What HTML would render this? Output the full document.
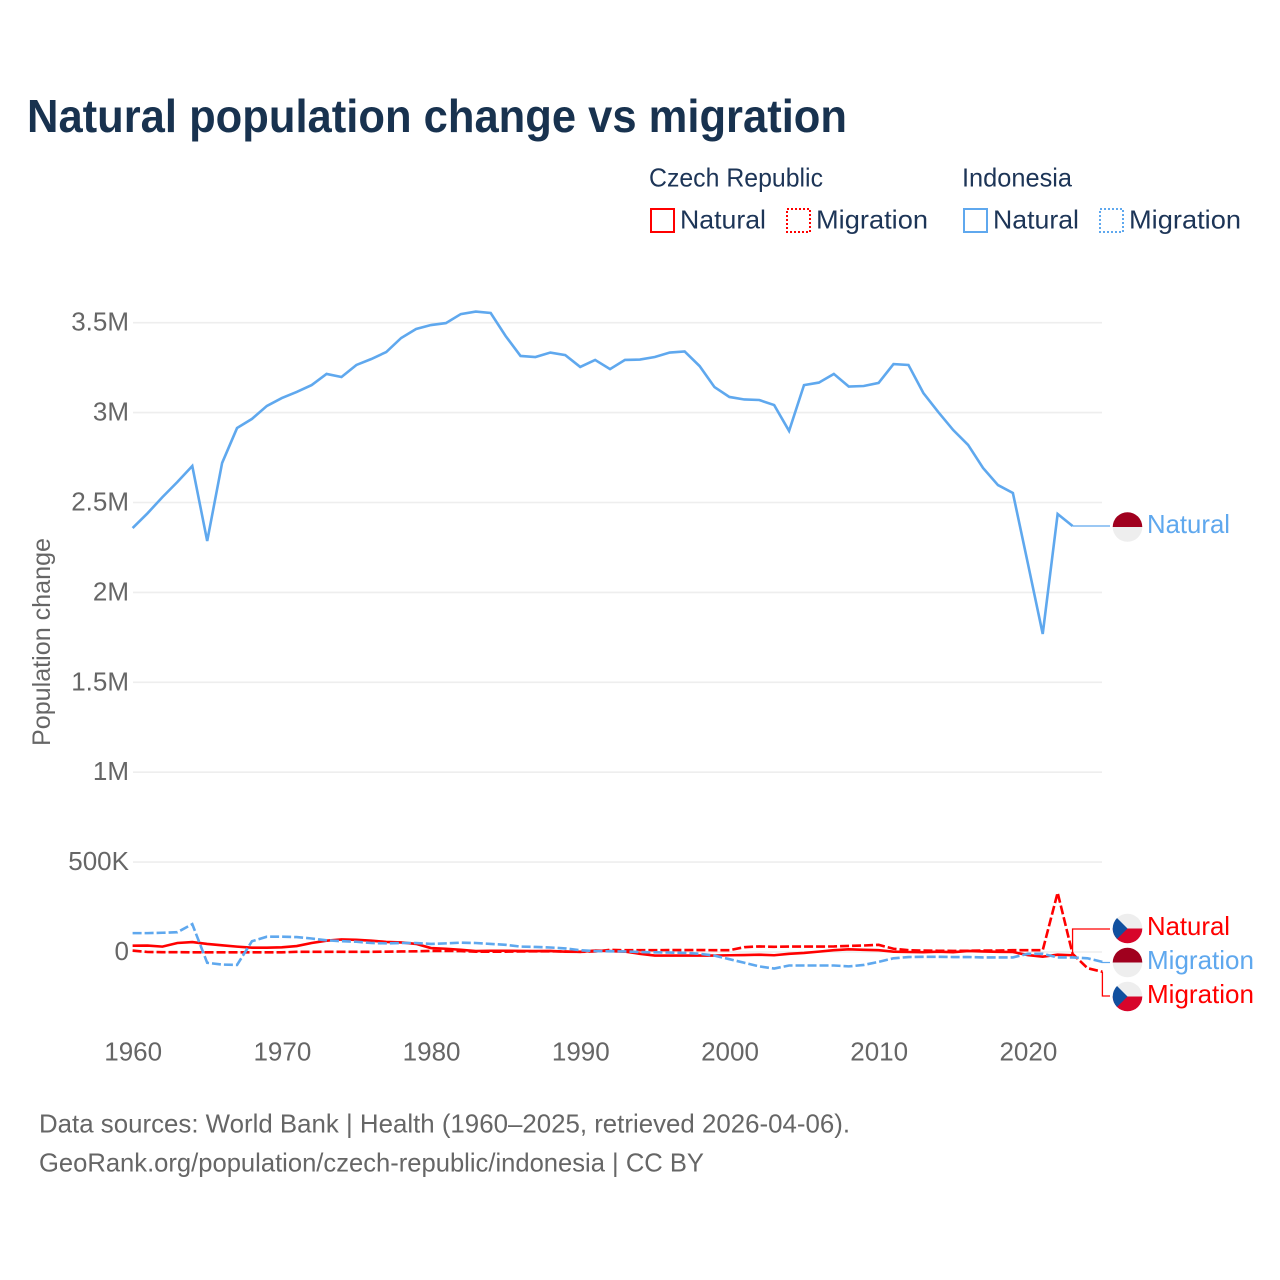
<!DOCTYPE html>
<html lang="en">
<head>
<meta charset="utf-8">
<title>Natural population change vs migration</title>
<style>
html,body{margin:0;padding:0;background:#fff;width:1280px;height:1280px;overflow:hidden}
svg{display:block;font-family:"Liberation Sans",sans-serif}
text{font-family:"Liberation Sans",sans-serif}
</style>
</head>
<body>
<svg id="chart" xmlns="http://www.w3.org/2000/svg" width="1280" height="1280" viewBox="0 0 1280 1280">
<defs>
<clipPath id="flag-clip"><circle cx="0" cy="0" r="14.8"/></clipPath>
<g id="flag-cz" clip-path="url(#flag-clip)">
<rect x="-15" y="-15" width="30" height="15" fill="#eeeeee"/>
<rect x="-15" y="0" width="30" height="15" fill="#d7052a"/>
<path d="M-15,-15 L0,0 L-15,15 Z" fill="#11509f"/>
</g>
<g id="flag-id" clip-path="url(#flag-clip)">
<rect x="-15" y="-15" width="30" height="15" fill="#a0001e"/>
<rect x="-15" y="0" width="30" height="15" fill="#eeeeee"/>
</g>
</defs>

<text x="27" y="132" font-size="46" font-weight="700" fill="#18324f" textLength="820" lengthAdjust="spacingAndGlyphs">Natural population change vs migration</text>

<g font-size="26" fill="#1d3557">
<text x="649" y="186.5" textLength="174" lengthAdjust="spacingAndGlyphs">Czech Republic</text>
<text x="962" y="186.5" textLength="110" lengthAdjust="spacingAndGlyphs">Indonesia</text>
<rect x="651" y="209" width="23" height="23" fill="none" stroke="#ff0000" stroke-width="2"/>
<text x="680" y="228.5" textLength="86" lengthAdjust="spacingAndGlyphs">Natural</text>
<rect x="787" y="209" width="23" height="23" fill="none" stroke="#ff0000" stroke-width="2" stroke-dasharray="2 2"/>
<text x="816" y="228.5" textLength="112" lengthAdjust="spacingAndGlyphs">Migration</text>
<rect x="964" y="209" width="23" height="23" fill="none" stroke="#5fa8ee" stroke-width="2"/>
<text x="993" y="228.5" textLength="86" lengthAdjust="spacingAndGlyphs">Natural</text>
<rect x="1100" y="209" width="23" height="23" fill="none" stroke="#5fa8ee" stroke-width="2" stroke-dasharray="2 2"/>
<text x="1129" y="228.5" textLength="112" lengthAdjust="spacingAndGlyphs">Migration</text>
</g>

<text transform="translate(50,746) rotate(-90)" font-size="25" fill="#666666" textLength="208" lengthAdjust="spacingAndGlyphs">Population change</text>

<g id="grid"></g>
<g id="y-ticks"></g>
<g id="x-ticks"></g>
<g id="connectors"></g>
<g id="series"></g>

<g>
<use href="#flag-id" transform="translate(1127.5,527)"/>
<text x="1147" y="533" font-size="26" fill="#5fa8ee" textLength="83" lengthAdjust="spacingAndGlyphs">Natural</text>
</g>
<g>
<use href="#flag-cz" transform="translate(1127.5,928.5)"/>
<text x="1147" y="935" font-size="26" fill="#ff0000" textLength="83" lengthAdjust="spacingAndGlyphs">Natural</text>
</g>
<g>
<use href="#flag-id" transform="translate(1127.5,962.5)"/>
<text x="1147" y="969" font-size="26" fill="#5fa8ee" textLength="107" lengthAdjust="spacingAndGlyphs">Migration</text>
</g>
<g>
<use href="#flag-cz" transform="translate(1127.5,996.5)"/>
<text x="1147" y="1003" font-size="26" fill="#ff0000" textLength="107" lengthAdjust="spacingAndGlyphs">Migration</text>
</g>

<g font-size="26" fill="#666666">
<text x="39" y="1132.5" textLength="811" lengthAdjust="spacingAndGlyphs">Data sources: World Bank | Health (1960–2025, retrieved 2026-04-06).</text>
<text x="39" y="1171.5" textLength="665" lengthAdjust="spacingAndGlyphs">GeoRank.org/population/czech-republic/indonesia | CC BY</text>
</g>
</svg>
<script>
const startYear = 1960;
const xTickYears = [1960, 1970, 1980, 1990, 2000, 2010, 2020];
const yTickValues = [0, 0.5, 1, 1.5, 2, 2.5, 3, 3.5];
const yTickLabels = ["0", "500K", "1M", "1.5M", "2M", "2.5M", "3M", "3.5M"];

/* values in millions, one per year from 1960 */
const czechNatural = [0.035,0.036,0.030,0.050,0.055,0.045,0.037,0.030,0.024,0.024,0.026,0.033,0.050,0.063,0.070,0.068,0.063,0.056,0.053,0.045,0.022,0.018,0.012,0.005,0.007,0.007,0.006,0.005,0.006,0.002,0.001,0.008,0.005,0.002,-0.010,-0.020,-0.020,-0.020,-0.020,-0.020,-0.018,-0.017,-0.015,-0.018,-0.010,-0.005,0.002,0.010,0.015,0.012,0.010,0.002,0.000,-0.001,0.002,-0.001,0.006,0.003,0.001,0.000,-0.017,-0.026,-0.015,-0.018];
const czechMigration = [0.008,0.000,-0.001,-0.001,-0.002,-0.002,-0.002,-0.002,-0.002,-0.002,-0.002,0.001,0.001,0.001,0.001,0.001,0.001,0.002,0.003,0.004,0.006,0.006,0.005,0.002,0.002,0.002,0.003,0.004,0.004,0.003,0.001,0.003,0.012,0.010,0.010,0.010,0.011,0.011,0.011,0.010,0.010,0.027,0.031,0.029,0.030,0.030,0.030,0.031,0.034,0.036,0.040,0.018,0.010,0.008,0.007,0.006,0.007,0.008,0.008,0.010,0.010,0.010,0.330,-0.010,-0.090,-0.110];
const indonesiaNatural = [2.358,2.440,2.530,2.614,2.703,2.286,2.720,2.914,2.965,3.037,3.081,3.115,3.153,3.215,3.198,3.265,3.298,3.337,3.415,3.465,3.487,3.498,3.548,3.562,3.554,3.426,3.315,3.309,3.334,3.320,3.254,3.293,3.242,3.293,3.295,3.309,3.334,3.340,3.259,3.142,3.087,3.073,3.070,3.042,2.898,3.153,3.167,3.215,3.145,3.148,3.165,3.270,3.265,3.109,3.003,2.903,2.820,2.692,2.597,2.553,2.163,1.769,2.436,2.369];
const indonesiaMigration = [0.105,0.105,0.107,0.110,0.155,-0.060,-0.070,-0.072,0.060,0.085,0.085,0.083,0.075,0.065,0.060,0.057,0.050,0.048,0.050,0.050,0.045,0.048,0.052,0.050,0.045,0.040,0.030,0.028,0.025,0.020,0.010,0.005,0.004,0.003,0.000,-0.002,-0.003,-0.005,-0.010,-0.020,-0.040,-0.060,-0.080,-0.092,-0.075,-0.075,-0.075,-0.075,-0.080,-0.072,-0.055,-0.035,-0.028,-0.027,-0.027,-0.028,-0.028,-0.030,-0.030,-0.030,-0.010,-0.010,-0.030,-0.030,-0.035,-0.055];

const NS = "http://www.w3.org/2000/svg";
function xScale(year) { return 132.6 + (year - startYear) * 14.92; }
function yScale(value) { return 952 - value * 179.8; }

const gridGroup = document.getElementById("grid");
const yTickGroup = document.getElementById("y-ticks");
yTickValues.forEach(function (v, i) {
  const line = document.createElementNS(NS, "line");
  
  
  line.setAttribute("x1", 133);
  line.setAttribute("x2", 1102);
  line.setAttribute("y1", yScale(v));
  line.setAttribute("y2", yScale(v));
  line.setAttribute("stroke", "#eeeeee");
  line.setAttribute("stroke-width", "1.6");
  gridGroup.appendChild(line);
  const label = document.createElementNS(NS, "text");
  
  
  label.setAttribute("x", 129);
  label.setAttribute("y", yScale(v) + 8);
  label.setAttribute("text-anchor", "end");
  label.setAttribute("font-size", "26");
  label.setAttribute("fill", "#666666");
  label.textContent = yTickLabels[i];
  yTickGroup.appendChild(label);
});

const xTickGroup = document.getElementById("x-ticks");
xTickYears.forEach(function (year) {
  const label = document.createElementNS(NS, "text");
  
  
  label.setAttribute("x", xScale(year) + 0.6);
  label.setAttribute("y", 1060.5);
  label.setAttribute("text-anchor", "middle");
  label.setAttribute("font-size", "26");
  label.setAttribute("fill", "#666666");
  label.textContent = String(year);
  xTickGroup.appendChild(label);
});

function linePath(values) {
  return values.map(function (v, i) {
    return (i ? "L" : "M") + xScale(startYear + i).toFixed(2) + "," + yScale(v).toFixed(2);
  }).join(" ");
}

const seriesGroup = document.getElementById("series");

const czechNaturalLine = document.createElementNS(NS, "path");


czechNaturalLine.setAttribute("d", linePath(czechNatural));
czechNaturalLine.setAttribute("fill", "none");
czechNaturalLine.setAttribute("stroke", "#ff0000");
czechNaturalLine.setAttribute("stroke-width", "2.6");
seriesGroup.appendChild(czechNaturalLine);

const czechMigrationLine = document.createElementNS(NS, "path");


czechMigrationLine.setAttribute("d", linePath(czechMigration));
czechMigrationLine.setAttribute("fill", "none");
czechMigrationLine.setAttribute("stroke", "#ff0000");
czechMigrationLine.setAttribute("stroke-width", "2.6");
czechMigrationLine.setAttribute("stroke-dasharray", "9 3");
seriesGroup.appendChild(czechMigrationLine);

const indonesiaNaturalLine = document.createElementNS(NS, "path");


indonesiaNaturalLine.setAttribute("d", linePath(indonesiaNatural));
indonesiaNaturalLine.setAttribute("fill", "none");
indonesiaNaturalLine.setAttribute("stroke", "#5fa8ee");
indonesiaNaturalLine.setAttribute("stroke-width", "2.6");
seriesGroup.appendChild(indonesiaNaturalLine);

const indonesiaMigrationLine = document.createElementNS(NS, "path");


indonesiaMigrationLine.setAttribute("d", linePath(indonesiaMigration));
indonesiaMigrationLine.setAttribute("fill", "none");
indonesiaMigrationLine.setAttribute("stroke", "#5fa8ee");
indonesiaMigrationLine.setAttribute("stroke-width", "2.6");
indonesiaMigrationLine.setAttribute("stroke-dasharray", "9 3");
seriesGroup.appendChild(indonesiaMigrationLine);

/* thin leader lines from each series end to its label */
function lastPoint(values) {
  const i = values.length - 1;
  return [xScale(startYear + i), yScale(values[i])];
}
function leader(values, labelY, color) {
  const p = lastPoint(values);
  const path = document.createElementNS(NS, "path");
  
  
  path.setAttribute("d", "M" + p[0] + "," + p[1] + " L" + p[0] + "," + labelY + " L1110," + labelY);
  path.setAttribute("fill", "none");
  path.setAttribute("stroke", color);
  path.setAttribute("stroke-width", "1.3");
  document.getElementById("connectors").appendChild(path);
}
leader(indonesiaNatural, 526, "#5fa8ee");
leader(czechNatural, 929, "#ff0000");
leader(indonesiaMigration, 962.5, "#5fa8ee");
leader(czechMigration, 996, "#ff0000");
</script>
</body>
</html>
